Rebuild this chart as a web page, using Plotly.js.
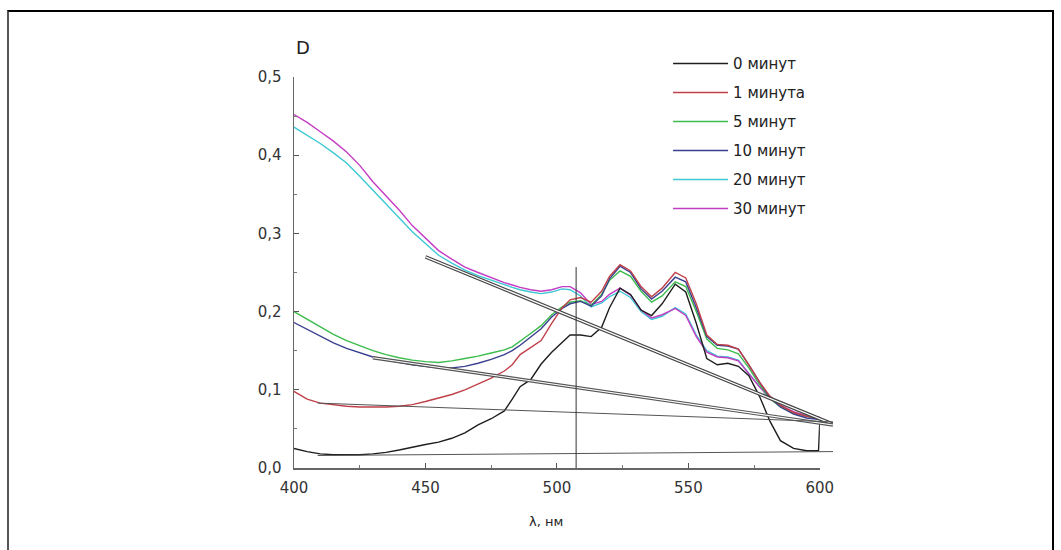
<!DOCTYPE html>
<html>
<head>
<meta charset="utf-8">
<script src="https://cdn.plot.ly/plotly-3.0.1.min.js"></script>
<style>
  html, body { margin: 0; padding: 0; background: #fff; }
  #wrap { position: relative; width: 1061px; height: 550px; overflow: hidden; }
  #chart { width: 1061px; height: 550px; }
  #frame { position: absolute; left: 7px; top: 10px; width: 1043px; height: 600px;
           border: 2px solid #000; border-left-color: #555; pointer-events: none; }
</style>
</head>
<body>
<div id="wrap"><div id="chart"></div><div id="frame"></div></div>
<script>
// ---------------- DATA ----------------
const wavelengths = [400,405,410,415,420,425,430,435,440,445,450,455,460,465,470,475,480,483,486,490,494,498,502,505,509,513,517,520,524,528,532,536,540,545,549,553,557,561,565,569,573,577,581,585,590,595,600];

const seriesNames = ["0 минут", "1 минута", "5 минут", "10 минут", "20 минут", "30 минут"];

const wavelengths0 = [400,405,410,415,420,425,430,435,440,445,450,455,460,465,470,475,480,483,486,490,494,498,502,505,509,513,517,520,524,528,532,536,540,545,549,553,557,561,565,569,573,577,581,585,590,595,599.5,600];
const d0min = [0.025,0.021,0.018,0.017,0.017,0.017,0.018,0.020,0.023,0.027,0.030,0.033,0.038,0.045,0.055,0.063,0.073,0.088,0.104,0.113,0.133,0.148,0.161,0.170,0.170,0.168,0.180,0.205,0.230,0.222,0.202,0.195,0.210,0.235,0.225,0.185,0.140,0.132,0.134,0.130,0.118,0.092,0.060,0.035,0.025,0.022,0.022,0.060];

const d1min = [0.098,0.088,0.083,0.081,0.079,0.078,0.078,0.078,0.079,0.081,0.085,0.090,0.094,0.100,0.107,0.115,0.124,0.132,0.145,0.154,0.163,0.185,0.205,0.215,0.218,0.212,0.226,0.245,0.260,0.252,0.232,0.219,0.230,0.250,0.243,0.210,0.170,0.158,0.157,0.152,0.132,0.110,0.092,0.080,0.071,0.066,0.064];

const d5min = [0.200,0.190,0.180,0.171,0.163,0.156,0.150,0.145,0.141,0.138,0.136,0.135,0.137,0.140,0.143,0.147,0.151,0.155,0.162,0.172,0.182,0.196,0.206,0.212,0.214,0.208,0.222,0.240,0.252,0.245,0.226,0.212,0.220,0.238,0.232,0.200,0.165,0.153,0.151,0.146,0.128,0.107,0.089,0.078,0.070,0.066,0.063];

const d10min = [0.186,0.177,0.168,0.160,0.153,0.147,0.142,0.138,0.135,0.132,0.130,0.128,0.128,0.130,0.134,0.139,0.145,0.150,0.157,0.167,0.178,0.193,0.204,0.210,0.213,0.207,0.220,0.242,0.258,0.250,0.229,0.216,0.226,0.244,0.238,0.205,0.168,0.157,0.156,0.152,0.132,0.110,0.090,0.078,0.069,0.064,0.062];

const d20min = [0.436,0.426,0.415,0.403,0.390,0.373,0.355,0.338,0.320,0.302,0.287,0.272,0.262,0.253,0.246,0.240,0.234,0.231,0.228,0.225,0.223,0.225,0.229,0.228,0.220,0.206,0.211,0.219,0.226,0.218,0.200,0.190,0.194,0.205,0.197,0.170,0.150,0.143,0.142,0.138,0.121,0.104,0.089,0.079,0.071,0.066,0.064];

const d30min = [0.452,0.442,0.430,0.418,0.404,0.387,0.366,0.348,0.330,0.310,0.294,0.278,0.267,0.257,0.250,0.243,0.237,0.234,0.231,0.228,0.226,0.228,0.232,0.232,0.224,0.209,0.213,0.222,0.230,0.221,0.202,0.192,0.196,0.204,0.195,0.168,0.148,0.142,0.141,0.137,0.120,0.104,0.090,0.080,0.072,0.067,0.065];

// baseline (tangent) lines and the marker line
const baseA_x = [450, 605], baseA_y = [0.270, 0.056];
const baseB_x = [430, 605], baseB_y = [0.141, 0.055];
const baseC_x = [409, 605], baseC_y = [0.083, 0.059];
const baseD_x = [409, 605], baseD_y = [0.016, 0.021];
const marker_x = [507.3, 507.3], marker_y = [0, 0.257];

const xTicks = [400, 450, 500, 550, 600];
const yTicks = [0, 0.1, 0.2, 0.3, 0.4, 0.5];

// ---------------- STYLE ----------------
const colors = ["#1e1e1e", "#c0404a", "#3cbc4c", "#3a3f8f", "#3cc8d4", "#c43cc4"];
const FONT = "DejaVu Sans, Arial, sans-serif";

const spectra = [
  [wavelengths0, d0min], [wavelengths, d1min], [wavelengths, d5min],
  [wavelengths, d10min], [wavelengths, d20min], [wavelengths, d30min]
];

const traces = [];
const drawOrder = [4, 5, 2, 3, 1, 0];
drawOrder.forEach(i => {
  traces.push({
    x: spectra[i][0], y: spectra[i][1], type: "scatter", mode: "lines",
    name: seriesNames[i], legendrank: i + 1, legendgroup: "g" + i,
    line: { color: colors[i], width: 1.4 },
    xaxis: "x", yaxis: "y"
  });
});

function helper(x, y, color, width) {
  return { x: x, y: y, type: "scatter", mode: "lines", showlegend: false,
           hoverinfo: "skip", line: { color: color, width: width },
           xaxis: "x2", yaxis: "y" };
}
// double-stroked lines: dark wide stroke with a white core
traces.push(helper(baseA_x, baseA_y, "#444", 3.6));
traces.push(helper(baseA_x, baseA_y, "#ffffff", 1.2));
traces.push(helper(baseB_x, baseB_y, "#555", 3.4));
traces.push(helper(baseB_x, baseB_y, "#ffffff", 1.1));
traces.push(helper(baseC_x, baseC_y, "#555", 1));
traces.push(helper(baseD_x, baseD_y, "#555", 1));
traces.push(helper(marker_x, marker_y, "#333", 1));

const axisCommon = {
  showgrid: false, zeroline: false, showline: true, linecolor: "#666", linewidth: 1.5,
  ticks: "inside", ticklen: 5, tickwidth: 1, tickcolor: "#555",
  tickfont: { family: FONT, size: 15, color: "#333" }
};

const layout = {
  width: 1061, height: 550,
  margin: { l: 294, r: 228, t: 77, b: 82 },
  paper_bgcolor: "rgba(0,0,0,0)", plot_bgcolor: "rgba(0,0,0,0)",
  separators: ", ",
  showlegend: true,
  xaxis: Object.assign({}, axisCommon, {
    range: [400, 600], domain: [0, 200 / 205], anchor: "y",
    tickvals: xTicks, ticktext: xTicks.map(String), ticklabelstandoff: 5,
    minor: { dtick: 25, tick0: 400, ticks: "inside", ticklen: 3, tickcolor: "#777" }
  }),
  xaxis2: { range: [400, 605], domain: [0, 1], anchor: "y", visible: false },
  yaxis: Object.assign({}, axisCommon, {
    range: [0, 0.5], anchor: "x",
    tickvals: yTicks, tickformat: ".1f", ticklabelstandoff: 8,
    minor: { dtick: 0.05, tick0: 0, ticks: "inside", ticklen: 3, tickcolor: "#777" }
  }),
  legend: {
    x: 0.694, y: 1.076, xanchor: "left", yanchor: "top",
    bgcolor: "rgba(0,0,0,0)", borderwidth: 0,
    font: { family: FONT, size: 15, color: "#222" },
    traceorder: "grouped", tracegroupgap: 6.5, itemwidth: 55
  },
  annotations: [
    { text: "D", xref: "paper", yref: "paper", x: 0.0167, y: 1.0767,
      xanchor: "center", yanchor: "middle",
      showarrow: false, font: { family: FONT, size: 18, color: "#222" } },
    { text: "λ, нм", xref: "paper", yref: "paper", x: 0.4675, y: -0.138,
      xanchor: "center", yanchor: "middle",
      showarrow: false, font: { family: FONT, size: 13, color: "#222" } }
  ]
};

Plotly.newPlot("chart", traces, layout, { displayModeBar: false, staticPlot: true });
</script>
</body>
</html>
